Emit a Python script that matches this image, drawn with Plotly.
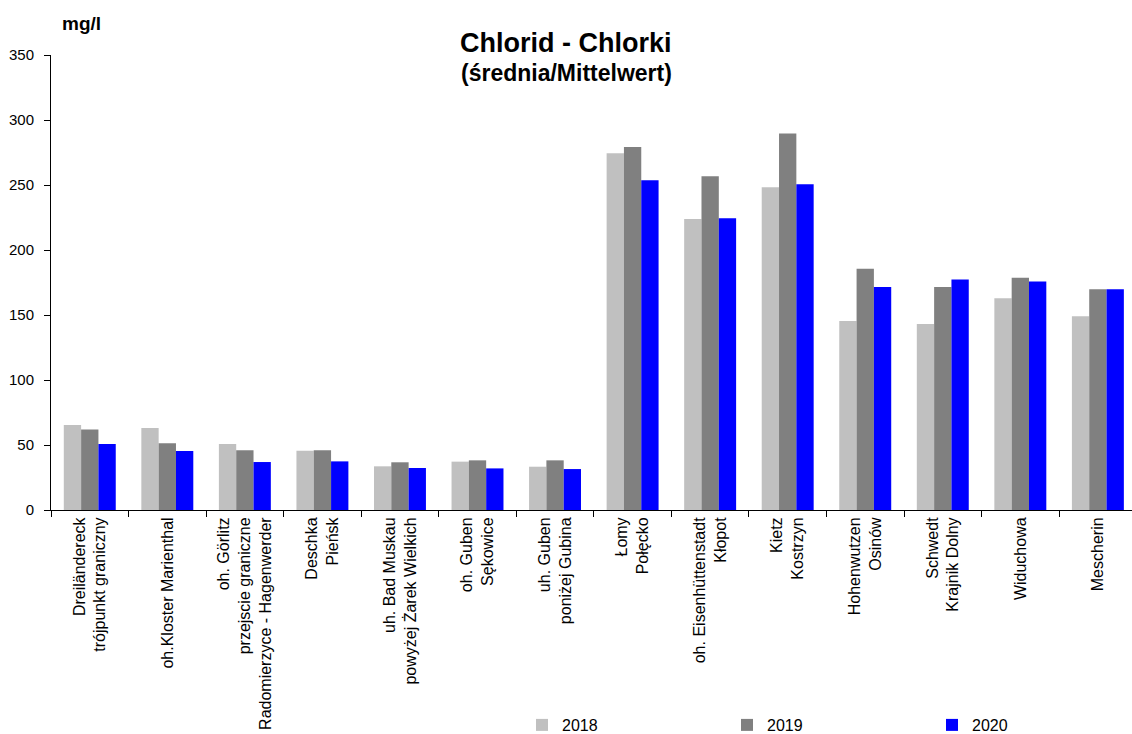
import plotly.graph_objects as go

categories = [
    "Dreiländereck<br>trójpunkt graniczny",
    "oh.Kloster Marienthal",
    "oh. Görlitz<br>przejscie graniczne<br>Radomierzyce - Hagenwerder",
    "Deschka<br>Pieńsk",
    "uh. Bad Muskau<br>powyżej Żarek Wielkich",
    "oh. Guben<br>Sękowice",
    "uh. Guben<br>poniżej Gubina",
    "Łomy<br>Połęcko",
    "oh. Eisenhüttenstadt<br>Kłopot",
    "Kietz<br>Kostrzyn",
    "Hohenwutzen<br>Osinów",
    "Schwedt<br>Krajnik Dolny",
    "Widuchowa",
    "Mescherin",
]
values_2018 = [65.4, 63.0, 50.8, 45.6, 33.6, 37.2, 33.3, 274.4, 223.8, 248.2, 145.4, 143.0, 162.8, 149.0]
values_2019 = [62.0, 51.3, 45.9, 45.9, 36.7, 38.2, 38.2, 279.2, 256.7, 289.7, 185.6, 171.5, 178.7, 169.8]
values_2020 = [50.8, 45.4, 36.9, 37.4, 32.3, 32.0, 31.5, 253.6, 224.4, 250.5, 171.5, 177.4, 175.7, 169.8]
series_names = ["2018", "2019", "2020"]
colors = ["#C0C0C0", "#808080", "#0000FF"]

fig = go.Figure()
for name, vals, col in zip(series_names, [values_2018, values_2019, values_2020], colors):
    fig.add_trace(go.Bar(
        x=categories, y=vals, name=name,
        marker=dict(color=col, line=dict(width=0)),
    ))

font_family = "Liberation Sans, Arial, sans-serif"
L, T, W, H = 51, 55, 1081, 455
fig.update_layout(
    width=1132, height=734,
    margin=dict(l=L, r=0, t=T, b=734 - T - H, autoexpand=False),
    paper_bgcolor="white", plot_bgcolor="white",
    barmode="group", bargap=0.33, bargroupgap=0,
    font=dict(family=font_family, size=15, color="black"),
    showlegend=True,
    legend=dict(
        orientation="h", x=(522 - L) / W, xanchor="left",
        y=(734 - 725) / 734, yref="container", yanchor="middle",
        entrywidth=160, entrywidthmode="pixels",
        font=dict(size=16), traceorder="normal",
    ),
    xaxis=dict(
        showline=True, linecolor="black", linewidth=1,
        ticks="outside", tickson="boundaries", ticklen=6, tickcolor="black",
        tickangle=-90, showgrid=False, range=[-0.5, 13.44],
        tickfont=dict(size=16), automargin=False,
    ),
    yaxis=dict(
        range=[0, 350], dtick=50, showline=True, linecolor="black", linewidth=1,
        ticks="outside", ticklen=6, tickcolor="black", showgrid=False,
        zeroline=False, tickfont=dict(size=15), ticklabelstandoff=7,
        automargin=False,
    ),
    annotations=[
        dict(text="<b>Chlorid - Chlorki</b>", xref="paper", yref="paper",
             x=(566 - L) / W, y=1 + (T - 42.5) / H, showarrow=False,
             font=dict(size=27), xanchor="center", yanchor="middle"),
        dict(text="<b>(średnia/Mittelwert)</b>", xref="paper", yref="paper",
             x=(566 - L) / W, y=1 - (73 - T) / H, showarrow=False,
             font=dict(size=23), xanchor="center", yanchor="middle"),
        dict(text="<b>mg/l</b>", xref="paper", yref="paper",
             x=(81 - L) / W, y=1 + (T - 23.5) / H, showarrow=False,
             font=dict(size=19), xanchor="center", yanchor="middle"),
    ],
)

fig.write_html("out.html", config={"displayModeBar": False},
               post_script="document.body.style.margin='0';")
